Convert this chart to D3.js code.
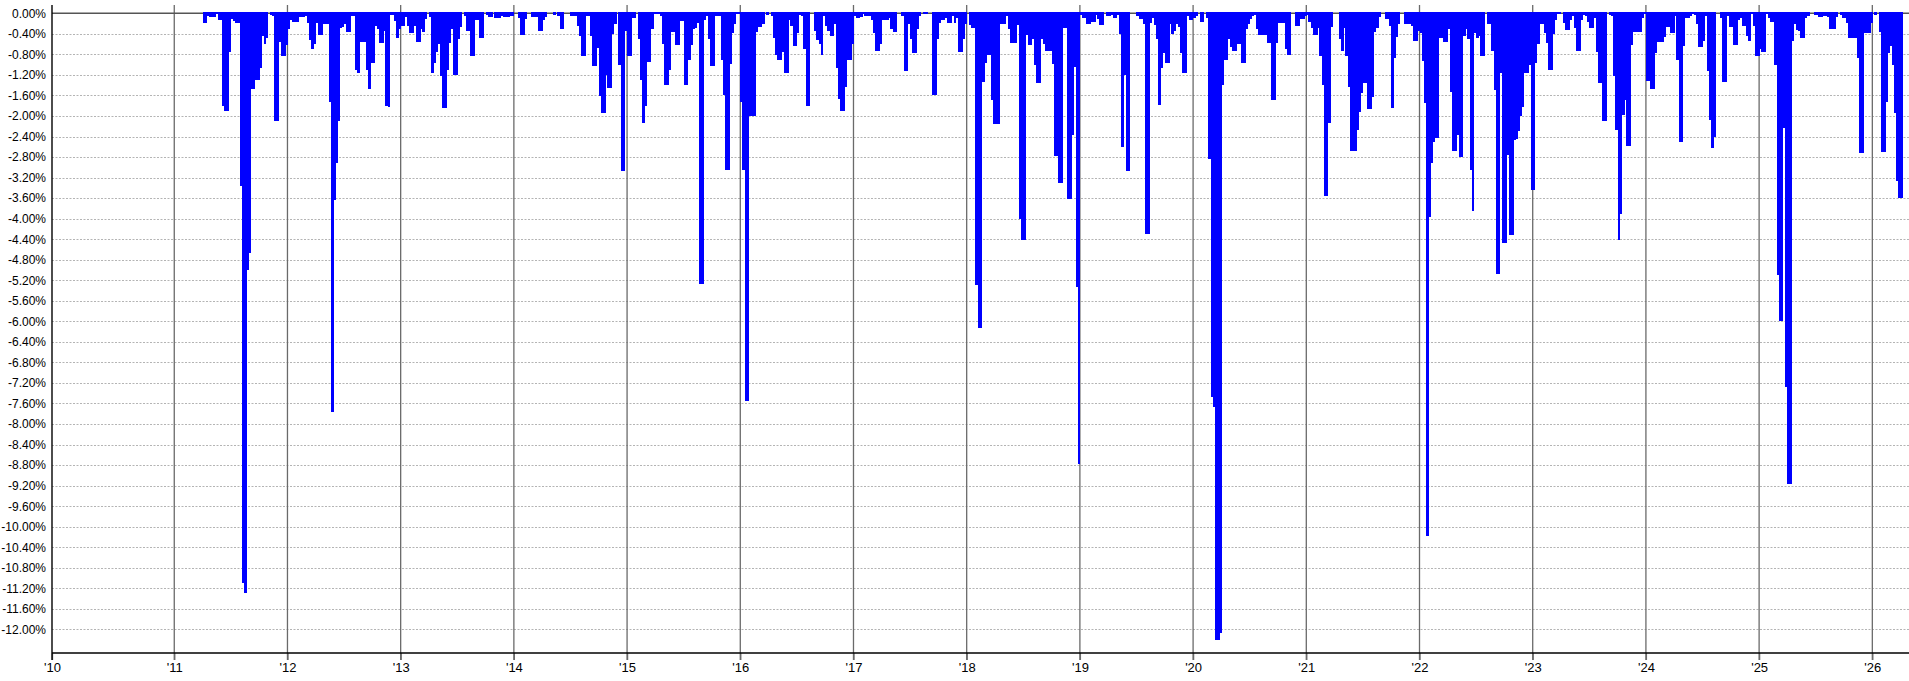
<!DOCTYPE html>
<html>
<head>
<meta charset="utf-8">
<script src="https://cdn.jsdelivr.net/npm/d3@7"></script>
<style>
  body { margin: 0; background: #fff; }
  svg { display: block; font-family: Arial, "Liberation Sans", sans-serif; }
</style>
</head>
<body>
<script>
// weekly drawdown depth (%) per year, 52 weeks each
const dd2011 = [0,0,0,0,0,0,0,0,0,0, 0,0,0,0.18,0.18,0.06,0.07,0.07,0.07,0.02, 0.13,0.13,1.8,1.9,1.9,0.75,0.12,0.15,0.18,0.18, 3.36,11.1,11.3,5.0,4.67,1.48,1.48,1.3,1.3,1.07, 0.45,0.6,0.49,0,0.03,0.06,2.09,2.09,0.55,0.84, 0.84,0.62];
const dd2012 = [0.3,0.13,0.16,0.16,0.16,0.08,0.08,0.08,0.06,0.18, 0.52,0.7,0.6,0.18,0.42,0.42,0.2,0.2,0.2,1.72, 7.76,3.64,2.92,2.1,0.28,0.27,0.2,0.36,0.36,0.05, 0.05,1.1,1.17,0.55,0.55,0.55,1.1,1.47,0.96,0.96, 0.25,0.3,0.57,0.57,0.35,1.8,1.82,0.03,0.03,0.15, 0.49,0.3];
const dd2013 = [0.25,0.25,0.08,0.25,0.38,0.38,0.25,0.55,0.55,0.3, 0.36,0.12,0,0.08,1.17,0.97,0.76,0.6,1.23,1.84, 1.84,1.1,0.57,0.3,1.2,1.2,0.5,0.26,0,0.06, 0.34,0.34,0.84,0.84,0.14,0.14,0.49,0.49,0,0.03, 0.07,0.07,0,0.1,0.1,0.1,0.06,0.08,0.08,0.08, 0.05,0.05];
const dd2014 = [0,0,0.1,0.42,0.42,0.12,0,0,0.07,0.07, 0.07,0.34,0.34,0.14,0.08,0,0,0,0.03,0, 0.06,0.3,0.3,0,0,0,0.05,0.05,0.05,0.25, 0.44,0.84,0.84,0.05,0.06,0.44,1.02,1.02,0.68,1.62, 1.95,1.95,1.2,1.45,1.45,0.4,0.2,0,1.0,3.08, 3.08,0.34];
const dd2015 = [0.84,0.84,0.1,0.1,0,0.5,1.3,2.13,1.8,0.94, 0.94,0.3,0.02,0.02,0.02,0.05,0.6,1.4,1.4,1.1, 0.36,0.36,0.62,0.62,0.15,0.15,1.4,1.4,0.9,0.62, 0.3,0.28,0.18,5.28,5.28,0.14,0.05,0.5,1.02,1.02, 0.06,0.06,0.06,0.9,1.6,3.05,3.05,0.99,0.39,0.2, 0.02,0.02];
const dd2016 = [1.72,3.05,7.56,7.56,2.0,2.0,2.0,0.36,0.26,0.26, 0.2,0,0.03,0,0.05,0.49,0.81,0.9,0.9,0.75, 1.16,1.16,0.13,0.25,0.63,0.63,0.38,0.03,0.06,0.7, 1.8,1.8,0,0,0.34,0.52,0.6,0.81,0.05,0.25, 0.35,0.44,0.44,0.2,1.07,1.67,1.9,1.9,1.44,0.9, 0.9,0.6];
const dd2017 = [0.05,0.1,0.1,0.08,0.02,0.06,0.06,0.06,0.13,0.39, 0.73,0.73,0.6,0.14,0.14,0.14,0.1,0.31,0.36,0.36, 0,0,0.05,1.12,1.12,0.2,0.5,0.78,0.78,0.3, 0.06,0,0.02,0.02,0,0,1.59,1.59,0.5,0.18, 0.13,0.13,0.1,0.18,0.18,0.05,0.18,0.1,0.75,0.75, 0.5,0.2];
const dd2018 = [0,0.22,0.28,0.28,5.3,6.12,6.12,1.33,0.96,0.81, 0.81,1.69,2.16,2.16,2.16,0.21,0.21,0.21,0.05,0.31, 0.57,0.57,0.57,0.23,4.0,4.42,4.42,0.42,0.62,0.62, 0.5,1.0,1.35,1.35,0.5,0.6,0.74,0.74,0.74,0.99, 2.78,2.78,3.31,3.31,0.29,0.29,3.62,3.62,2.37,1.04, 5.34,8.78];
const dd2019 = [0.03,0.1,0.1,0.21,0.21,0.16,0.16,0.03,0.12,0.23, 0.23,0,0.05,0.06,0.03,0.1,0.1,0.03,0.4,2.6, 1.2,3.08,3.08,0,0,0,0.05,0.12,0.12,0.21, 4.29,4.29,0.19,0.1,0.23,0.5,1.79,1.07,0.77,0.96, 0.96,0.2,0.4,0.34,0.2,0.26,0.78,1.16,1.16,0.05, 0.14,0.14];
const dd2020 = [0.1,0.05,0,0.16,0.16,0,0.1,2.83,7.47,7.66, 12.2,12.2,12.07,1.4,0.9,0.9,0.5,0.65,0.74,0.74, 0.6,0.6,0.97,0.97,0.31,0.2,0.12,0.05,0.03,0.3, 0.42,0.42,0.42,0.42,0.58,0.58,1.69,1.69,0.58,0.18, 0.18,0.18,0.69,0.81,0.81,0,0,0.25,0.25,0.12, 0.12,0.05];
const dd2021 = [0.03,0.16,0.29,0.42,0.42,0.29,0.84,1.39,3.55,3.55, 2.13,0.26,0,0,0,0.5,0.74,0.29,0.84,1.43, 2.69,2.69,2.69,2.28,1.92,1.56,1.35,1.35,1.86,1.86, 1.64,0.37,0.29,0.08,0,0,0.12,0.12,0.25,1.84, 0.88,0.46,0.2,0,0,0.2,0.2,0.2,0.25,0.54, 0.54,0.35];
const dd2022 = [0.39,0.92,1.75,10.18,3.97,2.92,2.5,2.43,2.43,0.49, 0.49,0.55,0.55,0.3,1.53,2.69,2.69,2.37,2.79,2.79, 0.44,0.3,0.5,3.05,3.86,0.39,0.49,0.45,0.83,0.83, 0,0.21,0.21,0.73,1.49,5.08,5.08,1.16,4.47,4.47, 2.76,4.32,4.32,2.47,2.45,2.3,2.01,1.82,1.16,1.16, 1.0,3.44];
const dd2023 = [3.44,0.97,0.6,0.2,0.2,0.39,0.57,1.1,1.1,0.4, 0.14,0.02,0.02,0,0.18,0.32,0.32,0.14,0.06,0.29, 0.73,0.73,0.14,0.03,0.06,0.16,0.29,0.29,0.1,0.75, 1.35,1.35,2.09,2.09,0,0.03,0.05,1.23,2.27,4.42, 3.9,1.98,1.68,2.58,2.58,0.62,0.36,0.36,0.36,0.36, 0.1,0.02];
const dd2024 = [1.31,1.31,1.48,1.48,0.78,0.55,0.55,0.55,0.47,0.26, 0.26,0.38,0.38,0.05,0.9,2.5,2.5,0.64,0.1,0.1, 0.05,0.02,0.03,0.2,0.66,0.66,0.53,0.06,1.12,2.08, 2.62,2.4,0,0,0.1,1.33,1.33,0.05,0.27,0.27, 0.62,0.62,0.13,0.1,0.25,0.25,0.44,0.53,0.02,0.25, 0.84,0.84];
const dd2025 = [0.7,0.75,0.75,0.02,0.1,0.16,0.16,1.0,5.1,6.0, 6.0,2.24,7.27,9.16,9.16,0.53,0.2,0.32,0.35,0.49, 0.49,0.1,0.05,0,0,0.03,0.03,0.08,0.08,0.05, 0.05,0.08,0.31,0.31,0.31,0.08,0,0.03,0.1,0.1, 0.18,0.49,0.49,0.49,0.49,0.88,2.73,2.73,0.39,0.39, 0.39,0.18];
const dd2026 = [0,0.03,0,0.36,2.71,2.71,1.72,0.77,0.64,1.0, 1.94,3.26,3.6,3.6];

const years = [2011,2012,2013,2014,2015,2016,2017,2018,2019,2020,2021,2022,2023,2024,2025,2026];
const drawdowns = [dd2011,dd2012,dd2013,dd2014,dd2015,dd2016,dd2017,dd2018,dd2019,dd2020,dd2021,dd2022,dd2023,dd2024,dd2025,dd2026];
const yTicks = d3.range(0, -12.01, -0.4);
const xStart = 2009.92, xEnd = 2026.324; // axis opens a little before '10

const width = 1909, height = 681;
const plotLeft = 52, plotRight = 1909, plotTop = 13.3, plotBottom = 653;

const svg = d3.select("body").append("svg")
    .attr("width", width)
    .attr("height", height);

const x = d3.scaleLinear().domain([xStart, xEnd]).range([plotLeft, plotRight]);
const y = d3.scaleLinear().domain([0, -12.46]).range([plotTop, plotBottom]);

// horizontal dotted grid
svg.append("g")
    .selectAll("line")
    .data(yTicks.slice(1))
    .join("line")
        .attr("x1", plotLeft).attr("x2", plotRight)
        .attr("y1", d => Math.round(y(d)) + 0.5)
        .attr("y2", d => Math.round(y(d)) + 0.5)
        .attr("stroke", "#b4b4b4")
        .attr("stroke-dasharray", "2,1.5");

// year lines
svg.append("g")
    .selectAll("line")
    .data(years)
    .join("line")
        .attr("x1", d => x(d)).attr("x2", d => x(d))
        .attr("y1", 5).attr("y2", 660)
        .attr("stroke", "#6a6a6a")
        .attr("stroke-width", 1.3);

// zero line
svg.append("line")
    .attr("x1", plotLeft).attr("x2", plotRight)
    .attr("y1", y(0)).attr("y2", y(0))
    .attr("stroke", "#555")
    .attr("stroke-width", 1.4);

// bars
const bars = [];
years.forEach((yr, k) => {
    drawdowns[k].forEach((v, i) => {
        if (v > 0) bars.push({ t0: yr + i / 52, t1: yr + (i + 1) / 52, v: -v });
    });
});

svg.append("g")
    .attr("shape-rendering", "crispEdges")
    .selectAll("rect")
    .data(bars)
    .join("rect")
        .attr("x", d => x(d.t0))
        .attr("width", d => x(d.t1) - x(d.t0) + 0.4)
        .attr("y", y(0) - 1.3)
        .attr("height", d => y(d.v) - y(0) + 1.3)
        .attr("fill", "#0000ff");

// y axis labels
const yAxis = d3.axisLeft(y)
    .tickValues(yTicks)
    .tickFormat(d => d.toFixed(2) + "%")
    .tickSize(0)
    .tickPadding(6);

svg.append("g")
    .attr("transform", `translate(${plotLeft},0)`)
    .call(yAxis)
    .call(g => g.select(".domain").remove())
    .selectAll("text")
        .attr("font-size", 12)
        .attr("font-family", "Arial, 'Liberation Sans', sans-serif")
        .attr("fill", "#000");

// x axis labels
const xAxis = d3.axisBottom(x)
    .tickValues([xStart].concat(years))
    .tickFormat(d => "'" + String(Math.round(d)).slice(2))
    .tickSize(7)
    .tickPadding(3);

svg.append("g")
    .attr("transform", `translate(0,${plotBottom})`)
    .call(xAxis)
    .call(g => g.select(".domain").remove())
    .call(g => g.selectAll(".tick line").attr("stroke", "#6a6a6a").attr("stroke-width", 1.3))
    .selectAll("text")
        .attr("font-size", 13)
        .attr("font-family", "Arial, 'Liberation Sans', sans-serif")
        .attr("fill", "#000");

// axis lines
svg.append("line")
    .attr("x1", plotLeft).attr("x2", plotLeft)
    .attr("y1", 5).attr("y2", 660)
    .attr("stroke", "#000")
    .attr("stroke-width", 1.4);

svg.append("line")
    .attr("x1", plotLeft).attr("x2", plotRight)
    .attr("y1", plotBottom).attr("y2", plotBottom)
    .attr("stroke", "#000")
    .attr("stroke-width", 1.4);
</script>
</body>
</html>
